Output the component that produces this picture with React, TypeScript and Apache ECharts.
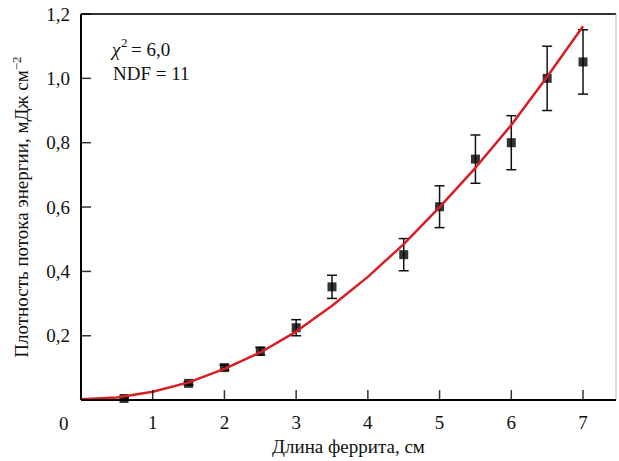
import React, { useEffect, useRef } from "react";
import * as echarts from "echarts";

const expX = [0.6, 1.5, 2, 2.5, 3, 3.5, 4.5, 5, 5.5, 6, 6.5, 7];
const expY = [0.005, 0.052, 0.101, 0.152, 0.225, 0.352, 0.452, 0.601, 0.749, 0.8, 1.0, 1.051];
const expErr = [0.003, 0.005, 0.008, 0.012, 0.025, 0.036, 0.05, 0.065, 0.075, 0.084, 0.1, 0.1];

const fitX = [0, 0.5, 1, 1.5, 2, 2.5, 3, 3.5, 4, 4.5, 5, 5.5, 6, 6.5, 7];
const fitY = [0.003, 0.008, 0.026, 0.055, 0.097, 0.148, 0.213, 0.293, 0.383, 0.485, 0.6, 0.722, 0.855, 1.005, 1.162];

const xTicks = [1, 2, 3, 4, 5, 6, 7];
const yTicks = [0.2, 0.4, 0.6, 0.8, 1.0, 1.2];
const X_MAX = 7.46;
const Y_MAX = 1.2;

const FONT = "Liberation Serif";

function frameLine(data: number[][], color: string, width: number) {
  return {
    type: "line",
    silent: true,
    clip: false,
    z: 6,
    showSymbol: false,
    symbol: "none",
    lineStyle: { color, width },
    data,
  };
}

export default function App() {
  const ref = useRef<HTMLDivElement>(null);
  useEffect(() => {
    if (!ref.current) return;
    const chart = echarts.init(ref.current, null, { renderer: "svg" });
    const errData = expX.map((x, i) => [x, expY[i], expY[i] - expErr[i], expY[i] + expErr[i]]);
    chart.setOption({
      animation: false,
      textStyle: { fontFamily: FONT },
      grid: { left: 81, right: 1, top: 14, bottom: 59 },
      xAxis: {
        type: "value",
        min: 0,
        max: X_MAX,
        splitNumber: 7,
        name: "Длина феррита, см",
        nameLocation: "middle",
        nameGap: 36,
        nameTextStyle: { fontFamily: FONT, fontSize: 19, color: "#111" },
        axisLine: { show: false },
        axisTick: { show: false },
        axisLabel: {
          margin: 13,
          fontFamily: FONT,
          fontSize: 19,
          color: "#111",
          formatter: (v: number) => (xTicks.indexOf(v) >= 0 ? String(v) : ""),
        },
        splitLine: { show: false },
      },
      yAxis: {
        type: "value",
        min: 0,
        max: Y_MAX,
        splitNumber: 6,
        name: "Плотность потока энергии, мДж см{sup|−2}",
        nameLocation: "middle",
        nameGap: 49,
        nameRotate: 90,
        nameTextStyle: {
          fontFamily: FONT,
          fontSize: 19,
          color: "#111",
          lineHeight: 22,
          rich: {
            sup: { fontFamily: FONT, fontSize: 13, color: "#111", verticalAlign: "top", lineHeight: 22, padding: [0, 0, 8, 0] },
          },
        },
        axisLine: { show: false },
        axisTick: { show: false },
        axisLabel: {
          margin: 11,
          fontFamily: FONT,
          fontSize: 19,
          color: "#111",
          formatter: (v: number) => {
            const hit = yTicks.find((t) => Math.abs(t - v) < 1e-6);
            return hit === undefined ? "" : hit.toFixed(1).replace(".", ",");
          },
        },
        splitLine: { show: false },
      },
      graphic: [
        { type: "text", left: 59, top: 414, style: { text: "0", fontFamily: FONT, fontSize: 19, fill: "#111" } },
        { type: "text", left: 112, top: 40, style: { text: "χ", fontFamily: FONT, fontStyle: "italic", fontSize: 19, fill: "#111" } },
        { type: "text", left: 121, top: 36, style: { text: "2", fontFamily: FONT, fontSize: 13, fill: "#111" } },
        { type: "text", left: 131, top: 40, style: { text: "= 6,0", fontFamily: FONT, fontSize: 19, fill: "#111" } },
        { type: "text", left: 113, top: 64, style: { text: "NDF = 11", fontFamily: FONT, fontSize: 19, fill: "#111" } },
      ],
      series: [
        frameLine([[0, Y_MAX], [X_MAX, Y_MAX]], "#333", 2),
        frameLine([[X_MAX, 0], [X_MAX, Y_MAX]], "#bbb", 1),
        frameLine([[0, 0], [X_MAX, 0]], "#000", 2),
        frameLine([[0, 0], [0, Y_MAX]], "#000", 2),
        {
          type: "scatter",
          silent: true,
          clip: false,
          z: 6,
          symbol: "rect",
          symbolSize: [1.5, 10],
          symbolOffset: [0, -5],
          itemStyle: { color: "#000" },
          data: xTicks.map((t) => [t, 0]),
        },
        {
          type: "scatter",
          silent: true,
          clip: false,
          z: 6,
          symbol: "rect",
          symbolSize: [10, 1.5],
          symbolOffset: [5, 0],
          itemStyle: { color: "#000" },
          data: yTicks.map((t) => [0, t]),
        },
        {
          type: "custom",
          z: 2,
          data: errData,
          encode: { x: 0, y: [1, 2, 3] },
          renderItem: (params: any, api: any) => {
            const x = api.value(0);
            const lo = api.value(2);
            const hi = api.value(3);
            const top = api.coord([x, hi]);
            const bot = api.coord([x, lo]);
            const hw = 5;
            const st = { stroke: "#111", lineWidth: 1.5 };
            return {
              type: "group",
              children: [
                { type: "line", shape: { x1: top[0], y1: top[1], x2: bot[0], y2: bot[1] }, style: st },
                { type: "line", shape: { x1: top[0] - hw, y1: top[1], x2: top[0] + hw, y2: top[1] }, style: st },
                { type: "line", shape: { x1: bot[0] - hw, y1: bot[1], x2: bot[0] + hw, y2: bot[1] }, style: st },
              ],
            };
          },
        },
        {
          type: "scatter",
          z: 3,
          symbol: "rect",
          symbolSize: 9,
          itemStyle: { color: "#000" },
          data: expX.map((x, i) => [x, expY[i]]),
        },
        {
          type: "line",
          z: 4,
          showSymbol: false,
          smooth: false,
          lineStyle: { color: "#d81e25", width: 2.5 },
          data: fitX.map((x, i) => [x, fitY[i]]),
        },
      ],
    });
    return () => chart.dispose();
  }, []);
  return <div ref={ref} style={{ width: 619, height: 461, position: "absolute", left: 0, top: 0 }} />;
}
